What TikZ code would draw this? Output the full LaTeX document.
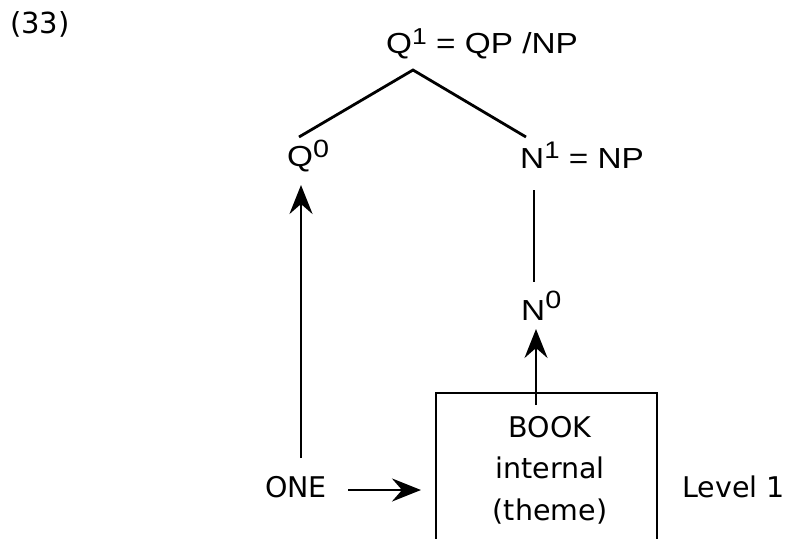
\documentclass[tikz,border=0pt]{standalone}
\usepackage{fontspec}
\setmainfont{DejaVu Sans}
\newfontfamily\catfont[FakeStretch=1.15]{Liberation Sans}
\usetikzlibrary{arrows.meta}
% raised index on a category label
\newcommand{\lvl}[3]{\raisebox{#2pt}{\fontsize{#3}{#3}\selectfont #1}}
\begin{document}
\begin{tikzpicture}[x=1pt,y=-1pt,
  txt/.style={inner sep=0pt,anchor=base west,font=\fontsize{28.5}{28.5}\selectfont},
  cat/.style={inner sep=0pt,anchor=base west,font=\catfont\fontsize{29}{29}\selectfont},
  branch/.style={line width=2.8pt},
  proj/.style={line width=2.8pt,-{Stealth[length=29pt,width=23pt,inset=10pt]}}]
\useasboundingbox (0,0) rectangle (789,538);

% example number
\node[txt,font=\fontsize{29}{29}\selectfont] (num) at (10,33) {(33)};

% category labels of the tree
\node[cat] (q1) at (386,53) {Q\lvl{1}{9}{23} = QP /NP};
\node[cat] (q0) at (287,166) {Q\lvl{0}{9}{25}};
\node[cat] (n1) at (520,168) {N\lvl{1}{10}{24} = NP};
\node[cat] (n0) at (521,320) {N\lvl{0}{12}{25}};

% attachment points of the branches
\coordinate (apex) at (413,70);
\coordinate (q0top) at (299,137);
\coordinate (n1top) at (526,137);
\coordinate (q0bot) at (301,185);
\coordinate (n1bot) at (534,190);
\coordinate (n0top) at (534,282);
\coordinate (n0bot) at (536,329);
\coordinate (boxin) at (536,405);

% lexical items
\node[txt] (one) at (265,497) {ONE};
\node[txt] (lvl) at (682,497) {Level 1};
\node[txt,anchor=base,align=center,font=\fontsize{28.5}{41.5}\selectfont]
  (book) at (550,520) {BOOK\\internal\\(theme)};

% box around the lexical entry, open at the bottom
\coordinate (bl) at (436,545);
\coordinate (br) at (657,545);
\draw[line width=2.8pt] (bl) |- (br |- 0,393) -- (br);

% tree branches
\draw[branch] (q0top) -- (apex) -- (n1top);
\draw[branch] (n1bot) -- (n0top);

% projection arrows
\coordinate (onetail) at (301,458);
\coordinate (arrs) at (348,490);
\coordinate (arre) at (421,490);
\draw[proj] (onetail) -- (q0bot);
\draw[proj] (boxin) -- (n0bot);
\draw[proj] (arrs) -- (arre);
\end{tikzpicture}
\end{document}
